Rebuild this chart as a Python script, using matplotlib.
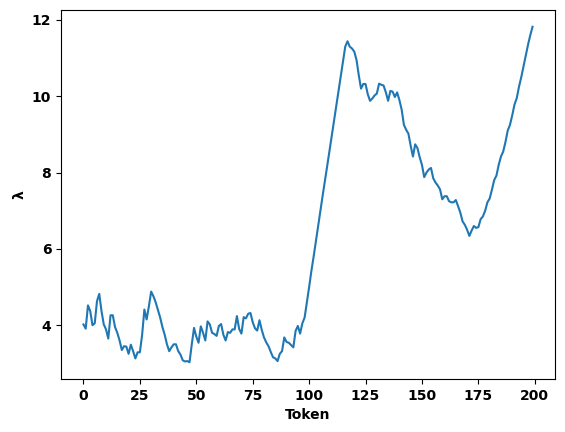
import matplotlib
matplotlib.use("Agg")
import matplotlib.pyplot as plt
import numpy as np

lam = [
    4.02, 3.91, 4.52, 4.37, 4.00, 4.05, 4.63, 4.82, 4.37, 4.02,
    3.89, 3.65, 4.26, 4.26, 3.95, 3.80, 3.60, 3.35, 3.45, 3.44,
    3.25, 3.49, 3.32, 3.13, 3.29, 3.29, 3.75, 4.41, 4.15, 4.50,
    4.88, 4.76, 4.60, 4.40, 4.20, 3.95, 3.75, 3.50, 3.32, 3.42,
    3.50, 3.50, 3.32, 3.23, 3.08, 3.05, 3.06, 3.03, 3.50, 3.93,
    3.70, 3.54, 3.97, 3.80, 3.60, 4.10, 4.02, 3.80, 3.77, 3.72,
    3.98, 4.03, 3.75, 3.60, 3.82, 3.80, 3.89, 3.89, 4.24, 3.90,
    3.78, 4.21, 4.18, 4.30, 4.32, 4.08, 3.92, 3.86, 4.13, 3.88,
    3.68, 3.55, 3.45, 3.30, 3.16, 3.13, 3.06, 3.25, 3.32, 3.68,
    3.56, 3.54, 3.48, 3.42, 3.85, 3.98, 3.78, 4.05, 4.20, 4.60,
    5.00, 5.42, 5.80, 6.20, 6.60, 7.00, 7.40, 7.78, 8.17, 8.56,
    8.95, 9.35, 9.74, 10.13, 10.52, 10.90, 11.30, 11.44, 11.30, 11.25,
    11.17, 10.95, 10.55, 10.20, 10.32, 10.32, 10.05, 9.88, 9.94, 10.02,
    10.07, 10.33, 10.30, 10.28, 10.10, 9.88, 10.14, 10.12, 9.98, 10.10,
    9.90, 9.65, 9.25, 9.12, 9.02, 8.70, 8.42, 8.74, 8.64, 8.40,
    8.20, 7.88, 8.00, 8.08, 8.12, 7.85, 7.74, 7.66, 7.56, 7.30,
    7.38, 7.38, 7.25, 7.22, 7.22, 7.28, 7.12, 6.95, 6.72, 6.63,
    6.50, 6.34, 6.48, 6.60, 6.55, 6.57, 6.78, 6.85, 7.00, 7.22,
    7.32, 7.55, 7.80, 7.92, 8.20, 8.42, 8.55, 8.80, 9.10, 9.25,
    9.50, 9.78, 9.95, 10.25, 10.50, 10.78, 11.05, 11.35, 11.60, 11.82,
]
tokens = np.arange(len(lam))

fig = plt.figure(figsize=(5.65, 4.32), dpi=100)
ax = fig.add_axes([61/565, 1-379/432, (555-61)/565, (379-10)/432])
ax.plot(tokens, lam, color="#1f77b4", linewidth=1.5)
ax.set_xlabel("Token", fontweight="bold")
ax.set_ylabel("λ", fontweight="bold")
for lbl in ax.get_xticklabels() + ax.get_yticklabels():
    lbl.set_fontweight("bold")
fig.savefig("out.png", dpi=100)
